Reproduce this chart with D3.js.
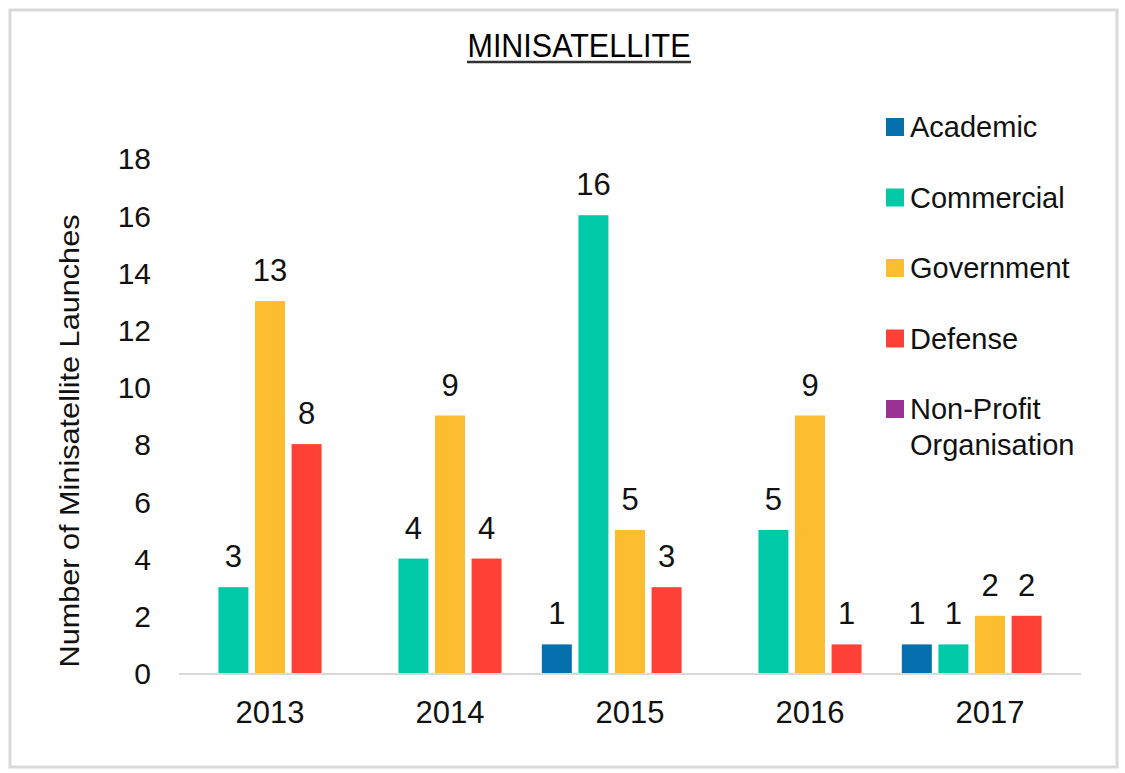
<!DOCTYPE html>
<html lang="en">
<head>
    <meta charset="UTF-8">
    <title>Minisatellite</title>
    <script src="https://d3js.org/d3.v7.min.js"></script>
    <style>
        body { margin: 0; background: #fff; }
        svg { display: block; font-family: "Liberation Sans", Arial, sans-serif; }
    </style>
</head>
<body>
    <div id="chart"></div>
    <script>
        // data
        const years = ["2013", "2014", "2015", "2016", "2017"];
        const sectors = ["Academic", "Commercial", "Government", "Defense", "Non-Profit Organisation"];
        const academic   = [0, 0, 1, 0, 1];
        const commercial = [3, 4, 16, 5, 1];
        const government = [13, 9, 5, 9, 2];
        const defense    = [8, 4, 3, 1, 2];
        const nonProfit  = [0, 0, 0, 0, 0];
        const yTicks = [0, 2, 4, 6, 8, 10, 12, 14, 16, 18];
        const colors = ["#0570ad", "#00c9a8", "#fdbd30", "#ff4036", "#9b3194"];

        const series = [academic, commercial, government, defense, nonProfit];

        const w = 1125;
        const h = 773;

        const svg = d3.select("#chart")
            .append("svg")
            .attr("width", w)
            .attr("height", h);

        // frame
        svg.append("rect")
            .attr("x", 10).attr("y", 10)
            .attr("width", 1107).attr("height", 757)
            .attr("fill", "none")
            .attr("stroke", "#d9d9d9")
            .attr("stroke-width", 3);

        // title (condensed, underlined)
        svg.append("text")
            .attr("x", 579)
            .attr("y", 57)
            .attr("text-anchor", "middle")
            .attr("font-family", "'Liberation Sans Narrow', 'Liberation Sans', Arial, sans-serif")
            .attr("font-size", 33)
            .attr("textLength", 223)
            .attr("lengthAdjust", "spacingAndGlyphs")
            .attr("fill", "#000")
            .text("MINISATELLITE");
        svg.append("line")
            .attr("x1", 467).attr("x2", 691)
            .attr("y1", 62).attr("y2", 62)
            .attr("stroke", "#333").attr("stroke-width", 2.5);

        const x0 = d3.scaleBand()
            .domain(years)
            .range([180, 1080]);

        const x1 = d3.scaleBand()
            .domain(d3.range(sectors.length))
            .range([0, x0.bandwidth()])
            .paddingInner(0.18)
            .paddingOuter(0.05);

        const y = d3.scaleLinear()
            .domain([0, 18])
            .range([673, 158]);

        // y tick labels, no axis line
        const yAxis = svg.append("g")
            .attr("transform", "translate(151,0)")
            .call(d3.axisLeft(y).tickValues(yTicks).tickSize(0).tickPadding(0));
        yAxis.select(".domain").remove();
        yAxis.selectAll("text")
            .attr("font-size", 30)
            .attr("font-family", "Liberation Sans, Arial, sans-serif")
            .attr("fill", "#111")
            .attr("dy", "0.36em");

        // bars
        const groups = svg.append("g")
            .selectAll("g")
            .data(years)
            .join("g")
            .attr("transform", d => `translate(${x0(d)},0)`);

        const cells = groups.selectAll("g")
            .data((d, i) => series.map((s, k) => ({ k: k, v: s[i] })).filter(c => c.v > 0))
            .join("g");

        cells.append("rect")
            .attr("x", d => x1(d.k))
            .attr("y", d => y(d.v))
            .attr("width", x1.bandwidth())
            .attr("height", d => y(0) - y(d.v))
            .attr("fill", d => colors[d.k]);

        cells.append("text")
            .attr("x", d => x1(d.k) + x1.bandwidth() / 2)
            .attr("y", d => y(d.v) - 20)
            .attr("text-anchor", "middle")
            .attr("font-size", 31)
            .attr("fill", "#111")
            .text(d => d.v);

        // x axis line and labels
        svg.append("line")
            .attr("x1", 179).attr("x2", 1081)
            .attr("y1", y(0) + 1).attr("y2", y(0) + 1)
            .attr("stroke", "#d9d9d9").attr("stroke-width", 2);

        const xAxis = svg.append("g")
            .attr("transform", `translate(0,${y(0)})`)
            .call(d3.axisBottom(x0).tickSize(0).tickPadding(0));
        xAxis.select(".domain").remove();
        xAxis.selectAll("text")
            .attr("font-size", 31)
            .attr("font-family", "Liberation Sans, Arial, sans-serif")
            .attr("fill", "#111")
            .attr("dy", "1.62em");

        // axis title
        svg.append("text")
            .attr("transform", "translate(79,441) rotate(-90)")
            .attr("text-anchor", "middle")
            .attr("font-size", 28)
            .attr("textLength", 453)
            .attr("lengthAdjust", "spacingAndGlyphs")
            .attr("fill", "#111")
            .text("Number of Minisatellite Launches");

        // legend
        const legend = svg.append("g")
            .selectAll("g")
            .data(sectors)
            .join("g")
            .attr("transform", (d, i) => `translate(886,${127 + i * 70.5})`);

        legend.append("rect")
            .attr("x", 0).attr("y", -9)
            .attr("width", 18).attr("height", 18)
            .attr("fill", (d, i) => colors[i]);

        legend.append("text")
            .attr("x", 24)
            .attr("font-size", 29)
            .attr("fill", "#111")
            .selectAll("tspan")
            .data(d => d === "Non-Profit Organisation" ? ["Non-Profit", "Organisation"] : [d])
            .join("tspan")
            .attr("x", 24)
            .attr("dy", (d, i) => i === 0 ? "0.36em" : 36)
            .text(d => d);
    </script>
</body>
</html>
